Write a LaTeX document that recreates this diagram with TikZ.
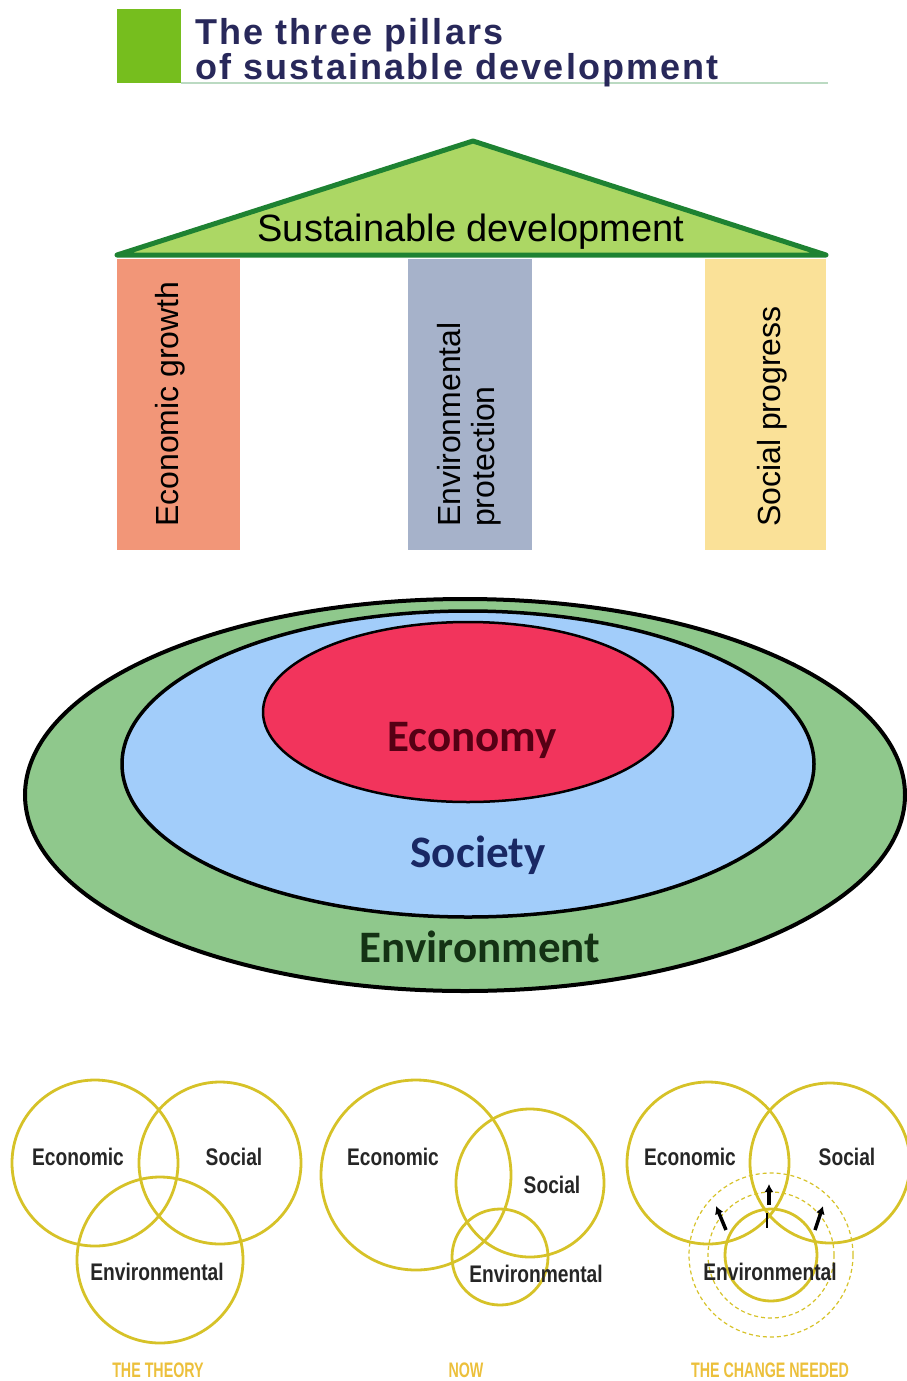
\documentclass[tikz,border=0pt]{standalone}
\usepackage{fontspec}
\usepackage{xcolor}
\usetikzlibrary{arrows.meta}
\setmainfont{Liberation Sans}
\newfontfamily\titlefont[LetterSpace=6]{Liberation Sans}
\newfontfamily\ringfont{Carlito}
\newfontfamily\vennfont[FakeStretch=0.8]{Liberation Sans}
\newfontfamily\capfont[FakeStretch=0.68]{Liberation Sans}
\definecolor{leafgreen}{RGB}{118,190,30}
\definecolor{navytext}{RGB}{40,40,90}
\definecolor{roofgreen}{RGB}{172,215,100}
\definecolor{roofline}{RGB}{30,130,50}
\definecolor{ecocol}{RGB}{242,150,120}
\definecolor{envcol}{RGB}{166,178,202}
\definecolor{soccol}{RGB}{250,225,152}
\definecolor{outergreen}{RGB}{143,200,140}
\definecolor{midblue}{RGB}{162,205,250}
\definecolor{innerred}{RGB}{242,52,92}
\definecolor{venny}{RGB}{214,194,40}
\definecolor{capy}{RGB}{236,192,60}

\begin{document}
\begin{tikzpicture}[x=1pt, y=-1pt,
    pillar/.style = {fill=#1, draw=none},
    pillartext/.style = {rotate=90, anchor=west, align=left,
                inner sep=0pt, font=\fontsize{32}{34}\selectfont},
    ring/.style = {fill=#1, draw=black, line width=4pt},
    ringtext/.style = {font=\ringfont\bfseries\fontsize{45}{45}\selectfont},
    venn/.style = {draw=venny, line width=2.8pt},
    vennring/.style = {draw=venny, line width=1.2pt, dash pattern=on 4pt off 3pt},
    venntext/.style = {font=\vennfont\bfseries\fontsize{24}{24}\selectfont,
                text=black!85},
    caption/.style = {font=\capfont\bfseries\fontsize{21}{21}\selectfont,
                text=capy},
    push/.style = {line width=3.5pt, -{Latex[length=8pt,width=9pt]}}
                    ]
    \useasboundingbox (0,0) rectangle (907,1381);
    % title
    \fill[leafgreen] (117,9) rectangle (181,83);
    \draw[roofline!30!white, line width=2.5pt] (181,83) -- (828,83);
    \node[anchor=base west, inner sep=0pt, text=navytext, align=left,
        font=\titlefont\bfseries\fontsize{36}{30}\selectfont] (title) at (195,79)
        {The three pillars\\of sustainable development};
    % roof and pillars
    \filldraw[fill=roofgreen, draw=roofline, line width=5pt, line join=round]
        (117,255) -- (473,141) -- (826,255) -- cycle;
    \node[font=\fontsize{38}{38}\selectfont] (sd) at (471,232) {Sustainable development};
    \fill[pillar=ecocol] (117,259) rectangle (240,550);
    \fill[pillar=envcol] (408,259) rectangle (532,550);
    \fill[pillar=soccol] (705,259) rectangle (826,550);
    \node[pillartext] (eg) at (170,527) {Economic growth};
    \node[pillartext] (ep) at (469,527) {Environmental\\protection};
    \node[pillartext] (sp) at (772,527) {Social progress};
    % nested ellipses
    \filldraw[ring=outergreen] (465,795) ellipse (440 and 196);
    \filldraw[ring=midblue, line width=3.5pt] (468,764) ellipse (346 and 153);
    \filldraw[ring=innerred, line width=2.5pt] (468,712) ellipse (205 and 90);
    \node[ringtext, text={rgb,255:red,85;green,0;blue,20}] (eco) at (472,740) {Economy};
    \node[ringtext, text={rgb,255:red,25;green,40;blue,100}] (soc) at (478,855) {Society};
    \node[ringtext, text={rgb,255:red,20;green,50;blue,20}] (env) at (480,947) {Environment};
    % venn: the theory
    \draw[venn] (95,1163) circle (83);
    \draw[venn] (220,1163) circle (81);
    \draw[venn] (160,1260) circle (83);
    \node[venntext] (thE) at (78,1157) {Economic};
    \node[venntext] (thS) at (234,1157) {Social};
    \node[venntext] (thV) at (157,1272) {Environmental};
    \node[caption] (th) at (158,1370) {THE THEORY};
    % venn: now
    \draw[venn] (416,1175) circle (95);
    \draw[venn] (530,1183) circle (74);
    \draw[venn] (500,1257) circle (48);
    \node[venntext] (nwE) at (393,1157) {Economic};
    \node[venntext] (nwS) at (552,1185) {Social};
    \node[venntext] (nwV) at (536,1274) {Environmental};
    \node[caption] (nw) at (466,1370) {NOW};
    % venn: the change needed
    \draw[vennring] (771,1255) circle (82);
    \draw[vennring] (771,1255) circle (63);
    \draw[venn] (708,1163) circle (81);
    \draw[venn] (830,1163) circle (80);
    \draw[venn] (771,1255) circle (46);
    \node[venntext] (chE) at (690,1157) {Economic};
    \node[venntext] (chS) at (847,1157) {Social};
    \node[venntext] (chV) at (770,1272) {Environmental};
    \node[caption] (ch) at (770,1370) {THE CHANGE NEEDED};
    \coordinate (a1) at (726,1230);
    \coordinate (b1) at (716,1206);
    \coordinate (a2) at (769,1205);
    \coordinate (b2) at (769,1184);
    \coordinate (a3) at (815,1230);
    \coordinate (b3) at (823,1206);
    \coordinate (c1) at (767,1213);
    \coordinate (c2) at (767,1228);
    \draw[push] (a1) -- (b1);
    \draw[push] (a2) -- (b2);
    \draw[push] (a3) -- (b3);
    \draw[line width=2pt] (c1) -- (c2);
\end{tikzpicture}
\end{document}
